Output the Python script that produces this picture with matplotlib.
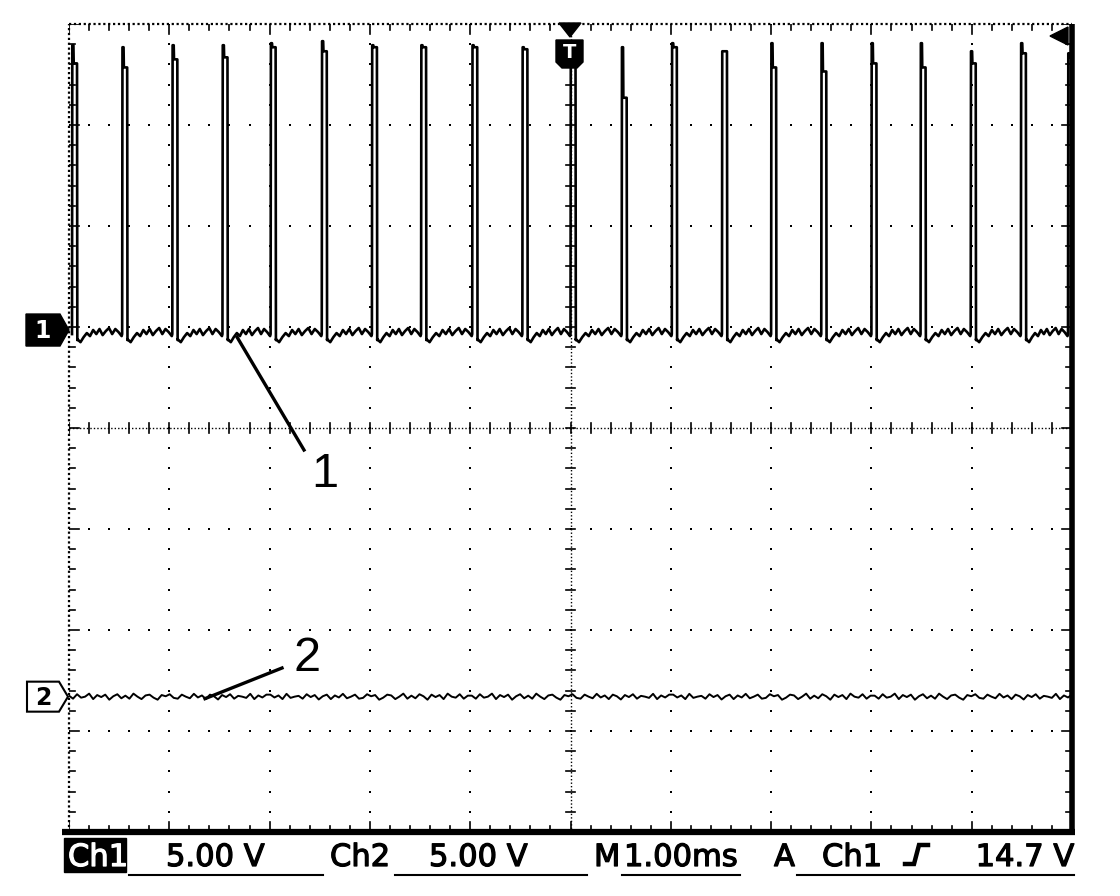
import numpy as np
import matplotlib
matplotlib.use('Agg')
import matplotlib.pyplot as plt
import matplotlib.patheffects as pe
from matplotlib.patches import Polygon

# ── Data ─────────────────────────────────────────────────────────────────
# time axis: 1.00 ms/div, 10 divisions; volts: 5.00 V/div
pulse_t = [0.03, 0.53, 1.03, 1.53, 2.01, 2.52, 3.02, 3.51, 4.02, 4.52, 5.00,
           5.51, 6.01, 6.51, 7.00, 7.50, 8.00, 8.49, 8.99, 9.49, 9.96]   # ms
pulse_top = [14.1, 14.0, 14.1, 14.1, 14.2, 14.3, 14.1, 14.1, 14.1, 14.0, 14.0,
             14.0, 14.2, 13.8, 14.2, 14.2, 14.2, 14.2, 13.8, 14.2, 13.7]  # V
pulse_step = [13.2, 13.0, 13.4, 13.5, 14.0, 13.8, 14.0, 14.0, 14.0, 13.9, 13.5,
              11.5, 14.0, 13.8, 13.0, 12.8, 13.2, 13.0, 13.2, 13.7, 13.5]  # V
pulse_width = 0.05  # ms

# ch1 baseline ripple between pulses (V)
ch1_ripple = [-0.45, -0.6, -0.35, -0.15, -0.3, 0.0, -0.2, 0.05, -0.25,
              -0.05, 0.1, -0.2, 0.05, -0.1, -0.3]

# ch2 noise (V), repeated along the trace
ch2_noise = [0.05, -0.1, 0.12, -0.05, 0.0, 0.15, -0.12, 0.08, -0.02, 0.1,
             -0.15, 0.02, 0.12, -0.08, 0.05, -0.1, 0.15, 0.0, -0.12, 0.06,
             0.1, -0.05, -0.15, 0.08, 0.02, 0.12, -0.06, -0.1, 0.1, 0.0,
             -0.08, 0.14, -0.04, 0.06, -0.12, 0.1, 0.02, -0.14, 0.08, -0.02,
             0.12, -0.1, 0.04, 0.0, -0.06, 0.14, -0.12, 0.06, -0.04, 0.1]

ch1_pos = 0.97    # div, ground marker of ch1
ch2_pos = -2.66   # div, ground marker of ch2
volts_per_div = 5.0

labels_bottom = ['Ch1', '5.00 V', 'Ch2', '5.00 V', 'M', '1.00ms', 'A', 'Ch1', '14.7 V']

# ── Figure ───────────────────────────────────────────────────────────────
W, H = 1120, 896
fig = plt.figure(figsize=(W / 100, H / 100), dpi=100)
fig.patch.set_facecolor('white')

L, R, T, B = 69, 1072, 24, 832
ax = fig.add_axes([L / W, 1 - B / H, (R - L) / W, (B - T) / H])
ax.set_xlim(0, 10)
ax.set_ylim(-4, 4)
ax.axis('off')

k = 'black'
minor = np.arange(0, 10.001, 0.2)
minor_y = np.arange(-4, 4.001, 0.2)

# grid dots
for gx in range(1, 10):
    if gx == 5:
        continue
    ax.plot([gx] * len(minor_y), minor_y, 's', ms=1.6, color=k, mew=0)
for gy in range(-3, 4):
    if gy == 0:
        continue
    ax.plot(minor, [gy] * len(minor), 's', ms=1.6, color=k, mew=0)

# centre cross with ticks
ax.plot([5, 5], [-4, 4], color=k, lw=1.0, ls=(0, (1, 1.5)))
ax.plot([0, 10], [0, 0], color=k, lw=1.0, ls=(0, (1, 1.5)))
for x in minor:
    ax.plot([x, x], [-0.045, 0.045], color=k, lw=1.2)
for y in minor_y:
    ax.plot([4.955, 5.045], [y, y], color=k, lw=1.2)

# border: dotted top and left, solid right and bottom
ax.plot([0, 10], [4, 4], color=k, lw=1.6, ls=(0, (1, 1.2)), clip_on=False)
ax.plot([0, 0], [-4, 4], color=k, lw=1.6, ls=(0, (1, 1.2)), clip_on=False)
ax.plot([10, 10], [-4, 4], color=k, lw=4.0, clip_on=False, solid_capstyle='butt')
ax.plot([-0.07, 10.03], [-4, -4], color=k, lw=4.5, clip_on=False, solid_capstyle='butt')
for x in minor:
    ln = 0.1 if abs(x - round(x)) < 1e-6 else 0.06
    ax.plot([x, x], [4, 4 - ln], color=k, lw=1.2)
    ax.plot([x, x], [-4, -4 + ln], color=k, lw=1.2)
for y in minor_y:
    ln = 0.1 if abs(y - round(y)) < 1e-6 else 0.06
    ax.plot([0, ln], [y, y], color=k, lw=1.2)
    ax.plot([10, 10 - ln], [y, y], color=k, lw=1.2)

# ── Ch1 trace ────────────────────────────────────────────────────────────
t1, v1 = [], []
prev = 0.0
for t0, top, step in zip(pulse_t, pulse_top, pulse_step):
    if t0 - prev > 0.1:
        seg = np.linspace(prev, t0 - 0.005, len(ch1_ripple))
        t1 += list(seg)
        v1 += ch1_ripple
    t1 += [t0, t0 + 0.003, t0 + 0.014, t0 + 0.017, t0 + pulse_width, t0 + pulse_width + 0.003]
    v1 += [-0.2, top, top, step, step, -0.5]
    prev = t0 + pulse_width + 0.003
t1 = np.array(t1)
v1 = np.array(v1)
ax.plot(t1, ch1_pos + v1 / volts_per_div, color=k, lw=1.9)

# ── Ch2 trace ────────────────────────────────────────────────────────────
v2 = np.concatenate([ch2_noise, ch2_noise[::-1], ch2_noise, ch2_noise[::-1], ch2_noise])
t2 = np.linspace(0, 10, len(v2))
ax.plot(t2, ch2_pos + v2 / volts_per_div, color=k, lw=1.4)

# ── Overlay in pixel coordinates ─────────────────────────────────────────
ov = fig.add_axes([0, 0, 1, 1])
ov.set_xlim(0, W)
ov.set_ylim(H, 0)
ov.axis('off')
ov.patch.set_alpha(0)

def y_px(div):
    return T + (4 - div) * (B - T) / 8

# channel markers
y1 = y_px(ch1_pos)
ov.add_patch(Polygon([(26, y1 - 16), (60, y1 - 16), (69, y1), (60, y1 + 16), (26, y1 + 16)],
                     closed=True, fc=k, ec=k, lw=1))
ov.text(43, y1 + 1, '1', color='white', fontsize=17, fontweight='bold',
        ha='center', va='center', family='DejaVu Sans')
y2 = y_px(ch2_pos)
ov.add_patch(Polygon([(27, y2 - 15), (59, y2 - 15), (68, y2), (59, y2 + 15), (27, y2 + 15)],
                     closed=True, fc='white', ec=k, lw=1.5))
ov.text(43, y2 + 1, '2', color=k, fontsize=17, fontweight='bold',
        ha='center', va='center', family='DejaVu Sans')

# trigger position marker
ov.add_patch(Polygon([(559, 23), (581, 23), (570, 37)], closed=True, fc=k, ec=k))
ov.add_patch(Polygon([(556, 40), (583, 40), (583, 62), (577, 68), (562, 68), (556, 62)],
                     closed=True, fc=k, ec=k))
ov.text(569.5, 53, 'T', color='white', fontsize=14, fontweight='bold',
        ha='center', va='center', family='DejaVu Sans')

# trigger level marker
ov.add_patch(Polygon([(1050, 36), (1068, 27), (1068, 45)], closed=True, fc=k, ec=k))

# callouts
ov.plot([237, 304], [337, 450], color=k, lw=2.4)
ov.text(325, 487, '1', fontsize=35, ha='center', va='baseline',
        family='Liberation Sans', color=k)
ov.plot([205, 282], [y2 + 2, 668], color=k, lw=2.4)
ov.text(307, 671, '2', fontsize=35, ha='center', va='baseline',
        family='Liberation Sans', color=k)

# bottom readout
base = 866
fs = 22
thick = [pe.withStroke(linewidth=0.9, foreground='black')]
thick_w = [pe.withStroke(linewidth=0.9, foreground='white')]
ov.add_patch(Polygon([(64, 838), (126, 838), (126, 872), (64, 872)], closed=True, fc=k, ec=k))
ov.text(68, base, labels_bottom[0], color='white', fontsize=fs, va='baseline',
        family='DejaVu Sans', path_effects=thick_w)
xs = [166, 330, 429, 594, 624, 774, 822]
for x, lab in zip(xs, labels_bottom[1:8]):
    ov.text(x, base, lab, color=k, fontsize=fs, va='baseline',
            family='DejaVu Sans', path_effects=thick)
ov.text(1074, base, labels_bottom[8], color=k, fontsize=fs, va='baseline', ha='right',
        family='DejaVu Sans', path_effects=thick)
# rising-edge symbol
ov.plot([905, 914, 919, 928], [864, 864, 845, 845], color=k, lw=3.2,
        solid_joinstyle='miter')
# underlines
for x0, x1 in [(129, 323), (395, 587), (622, 740), (797, 1074)]:
    ov.plot([x0, x1], [875, 875], color=k, lw=1.5)

fig.savefig('out.png', dpi=100)
